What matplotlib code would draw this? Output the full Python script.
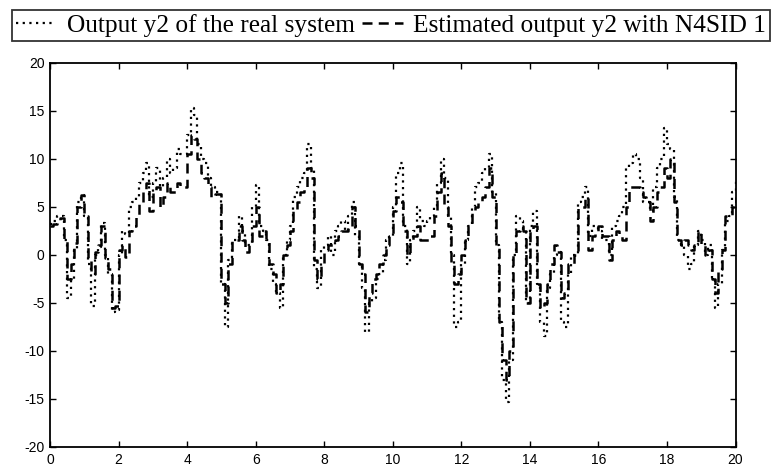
import numpy as np
import matplotlib.pyplot as plt

plt.rcParams['axes.unicode_minus'] = False

# time axis, 0.1 s sample period
t = np.linspace(0, 20, 201)

# measured output y2 of the real system
y_real = [
    3.2, 3.5, 4.0, 4.0, 1.5, -4.5, -2.5, 0.5, 5.5, 6.2,
    4.0, -1.0, -5.3, 0.0, 0.8, 3.3, 0.0, -2.0, -6.0, -5.8,
    0.0, 2.5, 2.2, 5.0, 5.5, 6.0, 7.5, 8.5, 9.5, 6.0,
    7.5, 9.0, 7.0, 8.0, 10.0, 8.5, 9.0, 11.0, 10.5, 10.5,
    12.5, 15.3, 14.5, 11.5, 10.0, 9.5, 8.0, 7.0, 6.5, 6.5,
    -3.0, -7.5, -0.5, 1.5, 1.5, 4.0, 2.5, 1.0, 1.0, 5.0,
    7.3, 3.0, 2.5, 1.5, -1.5, -3.0, -4.0, -5.5, 0.0, 1.5,
    3.0, 6.0, 7.0, 8.0, 8.5, 11.5, 9.0, -1.5, -3.5, 0.5,
    1.0, 2.0, 0.0, 2.5, 3.0, 3.5, 2.5, 4.0, 5.5, 2.0,
    -1.0, -3.5, -8.0, -5.0, -4.5, -2.5, -2.0, -0.5, 1.5, 2.0,
    5.0, 8.5, 9.5, 3.0, -1.0, 1.5, 2.5, 5.0, 3.5, 3.0,
    3.5, 4.0, 5.0, 7.5, 10.0, 8.0, 4.0, 0.0, -7.5, -7.0,
    -1.0, 1.5, 3.0, 5.0, 7.0, 7.5, 8.5, 9.0, 10.5, 6.5,
    1.0, -7.0, -13.0, -15.3, -11.0, 0.0, 4.0, 3.5, 2.5, -5.0,
    3.0, 4.5, -3.0, -7.0, -8.5, -3.5, -2.0, 0.0, 0.3, -7.0,
    -7.5, -2.0, 0.0, 0.0, 5.5, 6.0, 7.0, 2.0, 3.0, 3.0,
    2.5, 1.5, 1.5, 0.0, 3.0, 3.5, 4.0, 5.0, 9.0, 9.5,
    10.5, 10.0, 8.0, 5.5, 5.5, 4.5, 7.0, 9.0, 10.0, 13.2,
    11.5, 11.0, 6.0, 1.5, 1.0, 0.0, -1.5, -1.0, 1.0, 2.5,
    1.5, 0.0, 1.0, -2.5, -5.5, -3.0, 0.5, 3.5, 4.0, 6.5,
    7.8,
]

# output y2 estimated with the N4SID model
y_est = [
    3.0, 3.2, 3.5, 3.8, 1.5, -2.5, -1.0, 1.2, 5.0, 6.2,
    4.0, -0.5, -2.0, 0.3, 1.0, 3.0, -0.3, -1.5, -5.5, -5.3,
    0.5, 1.0, -0.2, 2.5, 3.0, 4.0, 5.5, 6.5, 7.5, 4.5,
    6.5, 7.0, 5.0, 6.0, 7.5, 6.5, 6.5, 7.5, 7.0, 7.0,
    10.5, 12.5, 12.0, 10.0, 8.5, 8.0, 7.0, 6.0, 6.3, 6.3,
    -3.0, -5.0, -1.0, 1.5, 1.5, 3.0, 1.5, 0.3, 1.0, 3.0,
    5.0, 2.0, 2.5, 1.5, -1.0, -2.0, -4.0, -3.0, 0.0, 1.0,
    2.5, 4.5, 5.5, 6.5, 7.0, 9.0, 8.0, -0.5, -2.5, -1.0,
    0.5, 1.0, 1.0, 1.5, 2.0, 2.5, 2.5, 3.0, 5.0, 3.0,
    -1.0, -2.0, -6.0, -4.0, -2.5, -2.0, -1.0, 0.0, 1.0, 2.0,
    4.5, 6.0, 5.5, 2.5, 0.0, 1.5, 2.0, 3.0, 1.5, 1.5,
    1.5, 2.0, 4.0, 6.5, 8.5, 5.0, 3.0, -1.0, -3.0, -2.0,
    0.0, 1.5, 3.0, 4.5, 5.0, 5.5, 6.0, 7.0, 9.0, 6.0,
    1.0, -7.0, -11.0, -13.0, -10.0, 0.0, 2.5, 3.0, 2.5, -5.0,
    2.5, 3.0, -3.0, -5.5, -5.0, -3.0, -1.0, 1.0, 0.3, -4.5,
    -4.0, -1.0, -1.0, 0.0, 5.0, 5.0, 6.0, 0.5, 2.0, 2.5,
    3.0, 2.0, 2.0, -0.5, 1.5, 2.5, 2.0, 1.5, 5.0, 7.0,
    7.0, 7.0, 6.5, 6.0, 5.5, 3.5, 5.0, 6.5, 7.0, 9.0,
    8.0, 10.0, 5.5, 1.5, 1.0, 1.5, 1.0, 0.5, 1.0, 2.5,
    1.0, 0.0, 0.5, -2.5, -4.0, -1.5, 0.5, 4.0, 4.0, 5.0,
    6.0,
]

fig = plt.figure(figsize=(7.72, 4.70), dpi=100)
ax = fig.add_axes([0.0648, 0.049, 0.888, 0.818])

ax.plot(t, y_real, color='black', lw=1.6, ls=(0, (1, 2)),
        drawstyle='steps-post', label='Output y2 of the real system')
ax.plot(t, y_est, color='black', lw=1.8, ls=(0, (4, 2.5)),
        drawstyle='steps-post', label='Estimated output y2 with N4SID 1')

ax.set_xlim(0, 20)
ax.set_ylim(-20, 20)
ax.set_xticks(np.arange(0, 21, 2))
ax.set_yticks(np.arange(-20, 21, 5))
ax.tick_params(direction='in', top=True, right=True, length=4, width=1,
               labelsize=10, pad=4)
for lab in ax.get_xticklabels() + ax.get_yticklabels():
    lab.set_family('Liberation Sans')
for s in ax.spines.values():
    s.set_linewidth(1.3)

leg = fig.legend(loc='upper left', bbox_to_anchor=(12 / 772, 1 - 10 / 470),
                 ncol=2, frameon=True, fancybox=False, borderaxespad=0,
                 borderpad=0.15, handlelength=1.6, handletextpad=0.4,
                 columnspacing=0.3, prop={'family': 'Liberation Serif', 'size': 18.3})
leg.get_frame().set_edgecolor('black')
leg.get_frame().set_linewidth(1.3)

fig.savefig('out.png', dpi=100)
